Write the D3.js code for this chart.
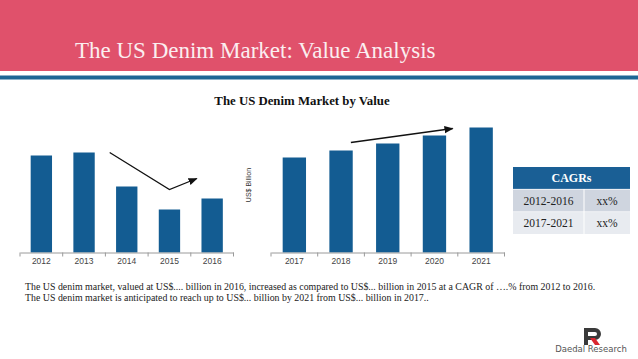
<!DOCTYPE html>
<html>
<head>
<meta charset="utf-8">
<script src="https://cdn.jsdelivr.net/npm/d3@7"></script>
<style>
  html, body { margin: 0; padding: 0; background: #fff; }
  svg { display: block; }
</style>
</head>
<body>
<div id="chart"></div>
<script>
// data
const yearsPast = ["2012", "2013", "2014", "2015", "2016"];
const valuesPast = [97, 100, 66, 43, 54];
const yearsFuture = ["2017", "2018", "2019", "2020", "2021"];
const valuesFuture = [95, 102, 109, 117, 125];
const cagrPeriods = ["2012-2016", "2017-2021"];
const cagrValues = ["xx%", "xx%"];
// trend arrows, as [band index, value]
const arrowPast = [[1.6, 100], [3.0, 63], [3.64, 74]];
const arrowFuture = [[1.21, 110], [3.39, 124]];

const W = 638, H = 359;
const pink = "#e0516b", blue = "#135c92";

const svg = d3.select("#chart").append("svg")
    .attr("width", W).attr("height", H);

// header band
svg.append("rect").attr("x", 0).attr("y", 0).attr("width", W).attr("height", 71).attr("fill", pink);
svg.append("rect").attr("x", 0).attr("y", 75.5).attr("width", W).attr("height", 4).attr("fill", "#1d6595");
svg.append("text")
    .attr("x", 75).attr("y", 58)
    .attr("font-family", "Liberation Serif, serif")
    .attr("font-size", 23)
    .attr("fill", "#fbeef0")
    .text("The US Denim Market: Value Analysis");

svg.append("text")
    .attr("x", 302).attr("y", 105)
    .attr("text-anchor", "middle")
    .attr("font-family", "Liberation Serif, serif")
    .attr("font-weight", "bold")
    .attr("font-size", 12.8)
    .attr("fill", "#111")
    .text("The US Denim Market by Value");

const y = d3.scaleLinear().domain([0, 130]).range([252.5, 122.5]);

svg.append("defs").append("marker")
    .attr("id", "head")
    .attr("viewBox", "0 0 10 10")
    .attr("refX", 9).attr("refY", 5)
    .attr("markerWidth", 7).attr("markerHeight", 7)
    .attr("orient", "auto")
    .append("path").attr("d", "M0,1 L10,5 L0,9 Z").attr("fill", "#111");

function barChart(cats, vals, x0, x1, arrow) {
  const x = d3.scaleBand().domain(cats).range([x0, x1])
      .paddingInner(0.5).paddingOuter(0.25);
  const g = svg.append("g");
  g.selectAll("rect").data(vals).join("rect")
      .attr("x", (d, i) => x(cats[i]))
      .attr("y", d => y(d))
      .attr("width", x.bandwidth())
      .attr("height", d => y(0) - y(d))
      .attr("fill", blue);

  const axis = g.append("g")
      .attr("transform", `translate(0,${y(0)})`)
      .call(d3.axisBottom(x).tickSize(0).tickPadding(5));
  axis.select(".domain").attr("stroke", "#9a9a9a");
  axis.selectAll("text")
      .attr("font-family", "Liberation Sans, Arial, sans-serif")
      .attr("font-size", 8.5)
      .attr("fill", "#444");
  // boundary tick marks
  const step = x.step();
  const edges = d3.range(cats.length + 1).map(i => x0 + i * step);
  g.selectAll("line.tk").data(edges).join("line")
      .attr("class", "tk")
      .attr("x1", d => d).attr("x2", d => d)
      .attr("y1", y(0)).attr("y2", y(0) + 4)
      .attr("stroke", "#9a9a9a");

  const ix = i => x(cats[0]) + x.bandwidth() / 2 + i * step;
  const line = d3.line().x(d => ix(d[0])).y(d => y(d[1]));
  g.append("path")
      .attr("d", line(arrow))
      .attr("fill", "none")
      .attr("stroke", "#111")
      .attr("stroke-width", 1.3)
      .attr("marker-end", "url(#head)");
}

barChart(yearsPast, valuesPast, 20, 233.5, arrowPast);
barChart(yearsFuture, valuesFuture, 271, 504.5, arrowFuture);

svg.append("text")
    .attr("transform", "translate(251,185) rotate(-90)")
    .attr("text-anchor", "middle")
    .attr("font-family", "Liberation Sans, Arial, sans-serif")
    .attr("font-size", 7)
    .attr("fill", "#333")
    .text("US$ Billion");

// CAGR table
const tx0 = 513, tx1 = 630, tcol = 584;
const rowY = d3.scaleBand().domain(["head", ...cagrPeriods]).range([167, 234]).paddingInner(0.03);
const tbl = svg.append("g");
tbl.append("rect").attr("x", tx0).attr("y", rowY("head")).attr("width", tx1 - tx0)
    .attr("height", rowY.bandwidth()).attr("fill", "#1a5f95");
tbl.append("text")
    .attr("x", (tx0 + tx1) / 2).attr("y", rowY("head") + rowY.bandwidth() / 2 + 4)
    .attr("text-anchor", "middle")
    .attr("font-family", "Liberation Serif, serif")
    .attr("font-weight", "bold").attr("font-size", 12)
    .attr("fill", "#fff").text("CAGRs");
const rowFill = ["#cfd5df", "#e8ebf0"];
cagrPeriods.forEach((p, i) => {
  const ry = rowY(p);
  tbl.append("rect").attr("x", tx0).attr("y", ry).attr("width", tcol - tx0 - 0.5)
      .attr("height", rowY.bandwidth()).attr("fill", rowFill[i]);
  tbl.append("rect").attr("x", tcol + 0.5).attr("y", ry).attr("width", tx1 - tcol - 0.5)
      .attr("height", rowY.bandwidth()).attr("fill", rowFill[i]);
  tbl.append("text").attr("x", (tx0 + tcol) / 2).attr("y", ry + rowY.bandwidth() / 2 + 4)
      .attr("text-anchor", "middle").attr("font-family", "Liberation Serif, serif")
      .attr("font-size", 11.5).attr("fill", "#222").text(p);
  tbl.append("text").attr("x", (tcol + tx1) / 2).attr("y", ry + rowY.bandwidth() / 2 + 4)
      .attr("text-anchor", "middle").attr("font-family", "Liberation Serif, serif")
      .attr("font-size", 11.5).attr("fill", "#222").text(cagrValues[i]);
});

// footnote
const notes = [
  "The US denim market, valued at US$.... billion in 2016, increased as compared to US$... billion in 2015 at a CAGR of ….% from 2012 to 2016.",
  "The US denim market is anticipated to reach up to US$... billion by 2021 from US$... billion in 2017.."
];
svg.append("g").selectAll("text").data(notes).join("text")
    .attr("x", 25).attr("y", (d, i) => 290 + i * 10.5)
    .attr("font-family", "Liberation Serif, serif")
    .attr("font-size", 9.9)
    .attr("fill", "#222")
    .text(d => d);

// logo
const logo = svg.append("g").attr("transform", "translate(584,328)");
logo.append("path").attr("d", "M0,0 H11 A6,6 0 0 1 11,12 H4 V17 H0 Z M4,4 V8 H11 A2,2 0 0 0 11,4 Z")
    .attr("fill", "#3a3a3a").attr("fill-rule", "evenodd");
logo.append("path").attr("d", "M6,10 L11,10 L16,17 L11,17 Z").attr("fill", "#d9262f");
svg.append("text")
    .attr("x", 591).attr("y", 352)
    .attr("text-anchor", "middle")
    .attr("font-family", "DejaVu Sans, sans-serif")
    .attr("font-size", 8.5)
    .attr("fill", "#555")
    .text("Daedal Research");
</script>
</body>
</html>
